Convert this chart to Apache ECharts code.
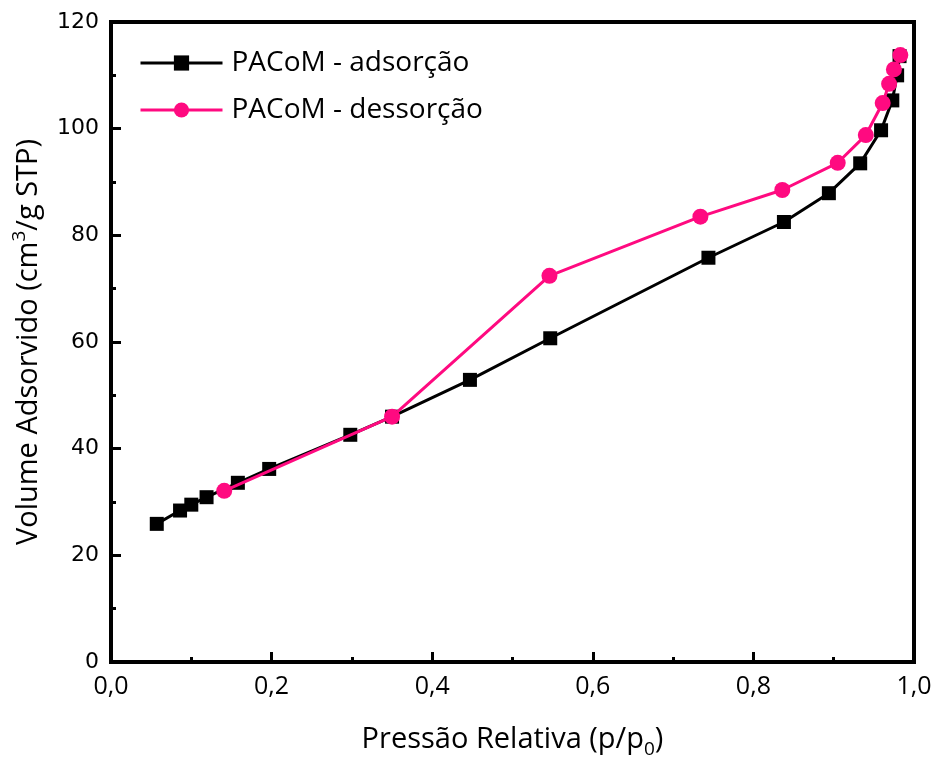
<!DOCTYPE html>
<html>
<head>
<meta charset="utf-8">
<script src="https://cdn.jsdelivr.net/npm/echarts@6/dist/echarts.min.js"></script>
<style>
  html, body { margin: 0; padding: 0; background: #fff; }
  #chart { width: 935px; height: 765px; }
</style>
</head>
<body>
<div id="chart"></div>
<script>
// N2 physisorption isotherm of PACoM: adsorption and desorption branches
const adsorptionP = [0.057, 0.086, 0.100, 0.119, 0.158, 0.197, 0.298, 0.350, 0.447, 0.547, 0.744, 0.838, 0.894, 0.933, 0.959, 0.973, 0.979, 0.982];
const adsorptionV = [25.9, 28.4, 29.5, 30.9, 33.6, 36.2, 42.6, 46.0, 52.9, 60.7, 75.8, 82.5, 87.9, 93.5, 99.7, 105.3, 110.0, 113.6];
const desorptionP = [0.141, 0.350, 0.546, 0.734, 0.836, 0.905, 0.940, 0.961, 0.969, 0.975, 0.983];
const desorptionV = [32.1, 46.0, 72.4, 83.5, 88.5, 93.6, 98.8, 104.8, 108.4, 111.1, 113.8];
const seriesNames = ['PACoM - adsorção', 'PACoM - dessorção'];

const pairs = (xs, ys) => xs.map((x, i) => [x, ys[i]]);

const titleFont = 'Open Sans';
const adsColor = '#000000';
const desColor = '#ff0a80';
const chart = echarts.init(document.getElementById('chart'));

chart.setOption({
  animation: false,
  backgroundColor: '#ffffff',
  grid: {
    left: 111, right: 21, top: 22, bottom: 103,
    show: true, borderColor: '#000', borderWidth: 4, backgroundColor: 'transparent'
  },
  legend: {
    orient: 'vertical',
    left: 134, top: 44,
    itemWidth: 82, itemHeight: 19, itemGap: 19,
    lineStyle: { width: 3 },
    textStyle: { fontFamily: titleFont, fontSize: 28, color: '#000', padding: [0, 0, 0, 4] },
    data: seriesNames
  },
  xAxis: {
    type: 'value',
    min: 0, max: 1, interval: 0.2,
    name: '{a|Pressão Relativa (p/p}{sub|0}{a|)}',
    nameLocation: 'middle',
    nameGap: 59,
    nameTextStyle: {
      rich: {
        a: { fontFamily: titleFont, fontSize: 29, color: '#000', lineHeight: 38, verticalAlign: 'middle' },
        sub: { fontFamily: titleFont, fontSize: 19, color: '#000', lineHeight: 38, verticalAlign: 'bottom' }
      }
    },
    axisLine: { show: true, onZero: false, lineStyle: { color: '#000', width: 4 } },
    axisTick: { show: true, inside: true, length: 10, lineStyle: { color: '#000', width: 3 } },
    minorTick: { show: true, splitNumber: 2, length: 5, lineStyle: { color: '#000', width: 3 } },
    splitLine: { show: false },
    axisLabel: {
      margin: 12,
      fontFamily: titleFont, fontSize: 25, color: '#000',
      formatter: v => v.toFixed(1).replace('.', ',')
    }
  },
  yAxis: {
    type: 'value',
    min: 0, max: 120, interval: 20,
    name: '{a|Volume Adsorvido (cm}{sup|3}{a|/g STP)}',
    nameLocation: 'middle',
    nameGap: 63,
    nameRotate: 90,
    nameTextStyle: {
      rich: {
        a: { fontFamily: titleFont, fontSize: 29, color: '#000', lineHeight: 38, verticalAlign: 'middle' },
        sup: { fontFamily: titleFont, fontSize: 19, color: '#000', lineHeight: 38, verticalAlign: 'top' }
      }
    },
    axisLine: { show: true, onZero: false, lineStyle: { color: '#000', width: 4 } },
    axisTick: { show: true, inside: true, length: 10, lineStyle: { color: '#000', width: 3 } },
    minorTick: { show: true, splitNumber: 2, length: 5, lineStyle: { color: '#000', width: 3 } },
    splitLine: { show: false },
    axisLabel: { margin: 12, fontFamily: 'DejaVu Sans', fontSize: 22, color: '#000' }
  },
  series: [
    {
      name: seriesNames[0],
      type: 'line',
      data: pairs(adsorptionP, adsorptionV),
      symbol: 'rect', symbolSize: 14,
      lineStyle: { color: adsColor, width: 3 },
      itemStyle: { color: adsColor },
      z: 2
    },
    {
      name: seriesNames[1],
      type: 'line',
      data: pairs(desorptionP, desorptionV),
      symbol: 'circle', symbolSize: 16,
      lineStyle: { color: desColor, width: 3 },
      itemStyle: { color: desColor },
      z: 3
    }
  ]
});
</script>
</body>
</html>
